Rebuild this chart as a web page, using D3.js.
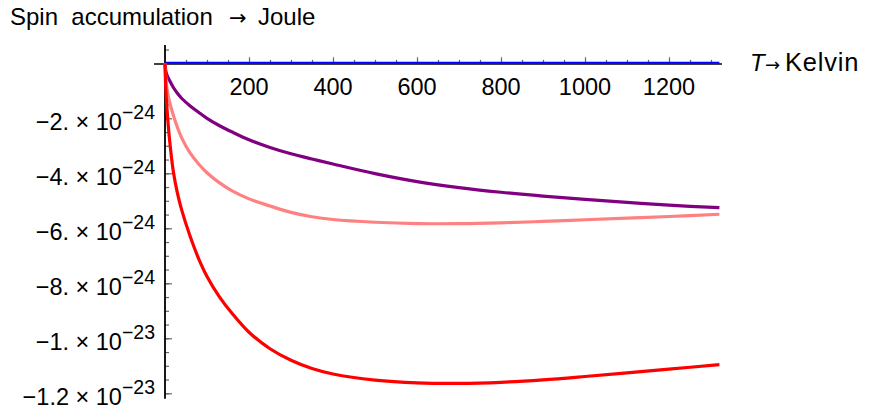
<!DOCTYPE html>
<html><head><meta charset="utf-8">
<script src="https://cdn.jsdelivr.net/npm/d3@7"></script>
<style>
html,body{margin:0;padding:0;background:#fff;}
text{fill:#000;}
</style></head>
<body>
<svg id="c" width="871" height="412" font-family="Liberation Sans, Arial, sans-serif"></svg>
<script>
// Temperature grid (Kelvin)
const temps = [0, 2, 5, 10, 20, 30, 40, 60, 80, 100, 130, 160, 200, 250, 300, 350, 400, 500, 600, 700, 800, 900, 1000, 1100, 1200, 1320];
// Spin accumulation values (Joule)
const blueSeries   = temps.map(() => 0);
const purpleSeries = [0, -0.28e-24, -0.44e-24, -0.60e-24, -0.88e-24, -1.10e-24, -1.28e-24, -1.55e-24, -1.78e-24, -2.00e-24, -2.27e-24, -2.50e-24, -2.78e-24, -3.06e-24, -3.29e-24, -3.48e-24, -3.66e-24, -4.01e-24, -4.30e-24, -4.52e-24, -4.69e-24, -4.83e-24, -4.95e-24, -5.06e-24, -5.16e-24, -5.25e-24];
const pinkSeries   = [0, -0.55e-24, -0.95e-24, -1.35e-24, -1.90e-24, -2.35e-24, -2.72e-24, -3.27e-24, -3.66e-24, -3.98e-24, -4.35e-24, -4.64e-24, -4.93e-24, -5.19e-24, -5.42e-24, -5.58e-24, -5.68e-24, -5.78e-24, -5.83e-24, -5.83e-24, -5.80e-24, -5.75e-24, -5.69e-24, -5.63e-24, -5.57e-24, -5.49e-24];
const redSeries    = [0, -0.95e-24, -1.70e-24, -2.65e-24, -3.95e-24, -4.75e-24, -5.35e-24, -6.30e-24, -7.10e-24, -7.75e-24, -8.50e-24, -9.10e-24, -9.78e-24, -10.38e-24, -10.80e-24, -11.10e-24, -11.30e-24, -11.52e-24, -11.62e-24, -11.64e-24, -11.60e-24, -11.51e-24, -11.39e-24, -11.26e-24, -11.12e-24, -10.96e-24];
const seriesColors = ["#0000ff", "#800080", "#ff8080", "#ff0000"];

const xTicks = [200, 400, 600, 800, 1000, 1200];
const xMinorTicks = d3.range(50, 1301, 50);
const yTicks = [-2e-24, -4e-24, -6e-24, -8e-24, -1e-23, -1.2e-23];
const yTickMantissas = ["\u22122.", "\u22124.", "\u22126.", "\u22128.", "\u22121.", "\u22121.2"];
const yTickExponents = ["\u221224", "\u221224", "\u221224", "\u221224", "\u221223", "\u221223"];
const yMinorTicks = d3.range(1, 25).map(i => -i * 0.5e-24).concat([0.5e-24]);

const svg = d3.select("#c");
const x = d3.scaleLinear().domain([0, 1320]).range([165, 165 + 0.42 * 1320]);
const y = d3.scaleLinear().domain([0, -1.2e-23]).range([63.3, 393.3]);
const y0 = y(0);

// minor ticks x
svg.append("g").attr("transform", `translate(0,${y0})`)
  .call(d3.axisBottom(x).tickValues(xMinorTicks.filter(t => !xTicks.includes(t))).tickSizeInner(-3.5).tickSizeOuter(0).tickFormat(""))
  .call(g => g.select(".domain").remove())
  .call(g => g.selectAll("line").attr("stroke", "#666").attr("stroke-width", 1.2));
// major ticks x
svg.append("g").attr("transform", `translate(0,${y0})`)
  .call(d3.axisBottom(x).tickValues(xTicks).tickSizeInner(-6).tickSizeOuter(0).tickFormat(""))
  .call(g => g.select(".domain").remove())
  .call(g => g.selectAll("line").attr("stroke", "#666").attr("stroke-width", 1.2));
// x labels
svg.append("g").selectAll("text").data(xTicks).join("text")
  .attr("x", d => x(d)).attr("y", 95).attr("text-anchor", "middle")
  .attr("font-size", 23.5).text(d => d);

// y ticks
svg.append("g").attr("transform", `translate(${x(0)},0)`)
  .call(d3.axisLeft(y).tickValues(yMinorTicks).tickSizeInner(-4).tickSizeOuter(0).tickFormat(""))
  .call(g => g.select(".domain").remove())
  .call(g => g.selectAll("line").attr("stroke", "#666").attr("stroke-width", 1.2));
svg.append("g").attr("transform", `translate(${x(0)},0)`)
  .call(d3.axisLeft(y).tickValues(yTicks).tickSizeInner(-7).tickSizeOuter(0).tickFormat(""))
  .call(g => g.select(".domain").remove())
  .call(g => g.selectAll("line").attr("stroke", "#666").attr("stroke-width", 1.2));

// y labels
const yl = svg.append("g").selectAll("text").data(yTicks).join("text")
  .attr("x", 155).attr("y", d => y(d) + 12).attr("text-anchor", "end").attr("font-size", 23.5)
  .attr("xml:space", "preserve");
yl.append("tspan").text((d, i) => yTickMantissas[i] + " \u00d7 10");
yl.append("tspan").attr("font-size", 19.5).attr("dy", -11).text((d, i) => yTickExponents[i]);

// axis lines
svg.append("line").attr("x1", x(-26)).attr("x2", x(1326)).attr("y1", y0 + 0.7).attr("y2", y0 + 0.7)
  .attr("stroke", "#000").attr("stroke-width", 1.6);
svg.append("line").attr("x1", x(0)).attr("x2", x(0)).attr("y1", y(0.67e-24)).attr("y2", y(-1.22e-23))
  .attr("stroke", "#000").attr("stroke-width", 1.8);

// curves
const line = d3.line().x((d, i) => x(temps[i])).y(d => y(d)).curve(d3.curveCatmullRom.alpha(0.5));
const allSeries = [blueSeries, purpleSeries, pinkSeries, redSeries];
svg.append("g").selectAll("path").data(allSeries).join("path")
  .attr("d", d => line(d)).attr("fill", "none")
  .attr("stroke", (d, i) => seriesColors[i])
  .attr("stroke-width", (d, i) => i === 0 ? 2 : 3.2)
  .attr("stroke-linejoin", "round")
  .attr("transform", (d, i) => i === 0 ? "translate(0,-0.6)" : null);

// axis titles
svg.append("text").attr("x", 10).attr("y", 25).attr("font-size", 24).attr("xml:space", "preserve")
  .text("Spin  accumulation");
svg.append("text").attr("x", 229).attr("y", 25).attr("font-size", 21)
  .attr("font-family", "DejaVu Sans").text("\u2192");
svg.append("text").attr("x", 258).attr("y", 25).attr("font-size", 24).text("Joule");

svg.append("text").attr("x", 750).attr("y", 71).attr("font-size", 24)
  .attr("font-style", "italic").text("T");
svg.append("text").attr("x", 765).attr("y", 71).attr("font-size", 18)
  .attr("font-family", "DejaVu Sans").text("\u2192");
svg.append("text").attr("x", 785).attr("y", 71).attr("font-size", 25.5).attr("letter-spacing", 0.8).text("Kelvin");
</script>
</body></html>
